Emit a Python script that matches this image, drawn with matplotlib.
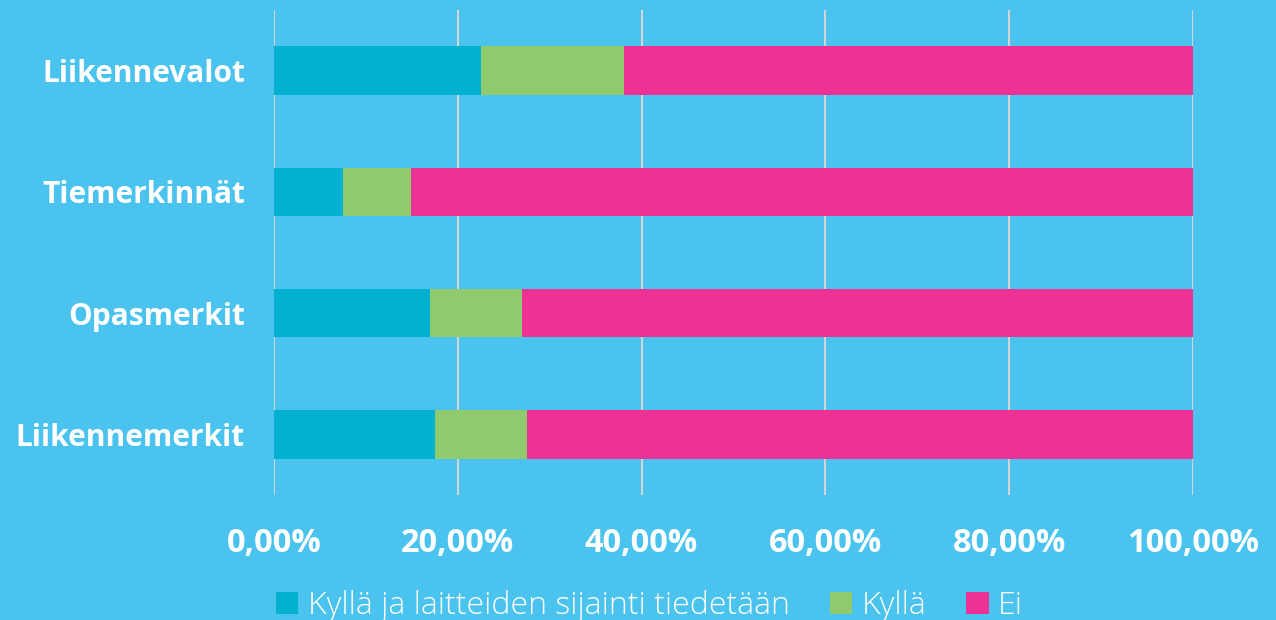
import matplotlib
matplotlib.use('Agg')
import matplotlib.pyplot as plt
import numpy as np

# data (percent)
categories = ['Liikennemerkit', 'Opasmerkit', 'Tiemerkinnät', 'Liikennevalot']
kylla_sijainti = [17.5, 17.0, 7.5, 22.5]
kylla = [10.0, 10.0, 7.4, 15.6]
ei = [72.5, 73.0, 85.1, 61.9]
series_names = ['Kyllä ja laitteiden sijainti tiedetään', 'Kyllä', 'Ei']
tick_labels = ['0,00%', '20,00%', '40,00%', '60,00%', '80,00%', '100,00%']

bg = '#4AC3EE'
colors = ['#02B0CF', '#8FCA6E', '#EE3194']

plt.rcParams['font.family'] = ['Open Sans', 'DejaVu Sans']

fig = plt.figure(figsize=(12.76, 6.2), dpi=100, facecolor=bg)
ax = fig.add_axes([0.2147, 0.2016, 0.7203, 0.7824])
ax.set_facecolor(bg)

y = np.arange(len(categories))
left = np.zeros(len(categories))
for vals, name, c in zip([kylla_sijainti, kylla, ei], series_names, colors):
    ax.barh(y, vals, left=left, height=0.4, color=c, label=name, zorder=3)
    left += np.array(vals)

ax.set_xlim(0, 100)
ax.set_ylim(-0.5, 3.5)
ax.set_xticks(np.arange(0, 101, 20))
ax.set_xticklabels(tick_labels)
ax.set_yticks(y)
ax.set_yticklabels(categories)
ax.grid(axis='x', color='#D4D4D4', linewidth=1.5, zorder=0)
for s in ax.spines.values():
    s.set_visible(False)
ax.tick_params(axis='both', length=0, colors='white')
ax.tick_params(axis='x', pad=23)
ax.tick_params(axis='y', pad=21)
for t in ax.get_xticklabels():
    t.set_fontsize(23.5)
    t.set_fontweight('bold')
for t in ax.get_yticklabels():
    t.set_fontsize(21.5)
    t.set_fontweight('bold')

leg = fig.legend(loc='lower center', bbox_to_anchor=(0.509, -0.05), ncol=3,
                 frameon=False, fontsize=23, handlelength=0.7, handleheight=0.7,
                 handletextpad=0.3, columnspacing=1.25)
for t in leg.get_texts():
    t.set_color('white')
    t.set_fontweight('light')

fig.savefig('out.png', dpi=100, facecolor=bg)
